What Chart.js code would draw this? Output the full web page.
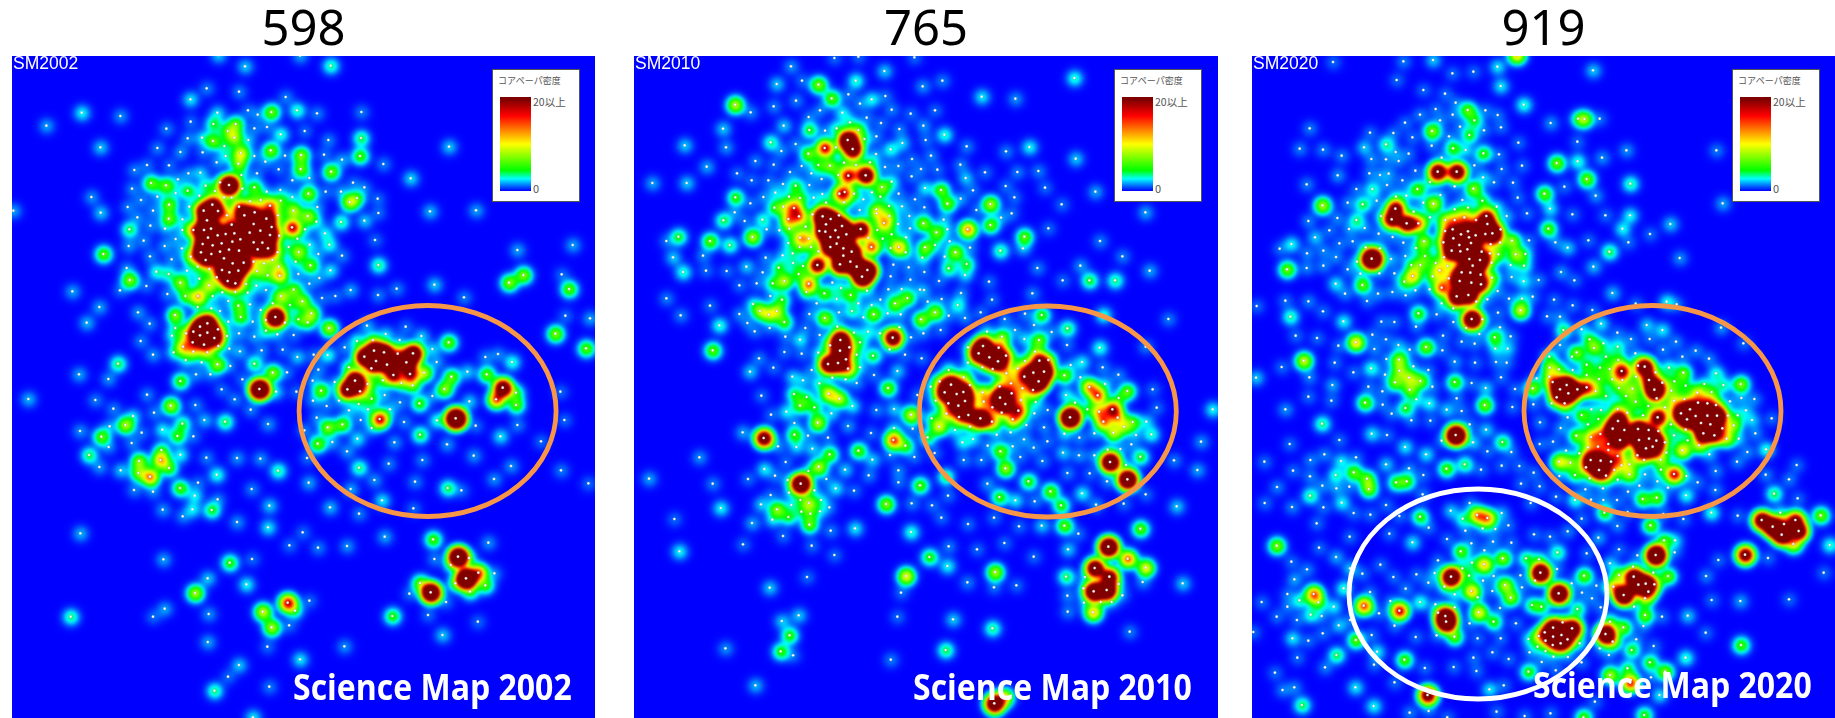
<!DOCTYPE html>
<html>
<head>
<meta charset="utf-8">
<title>Science Map</title>
<script src="https://cdn.jsdelivr.net/npm/chart.js@4/dist/chart.umd.min.js"></script>
<style>
html, body { margin: 0; padding: 0; background: #fff; width: 1835px; height: 718px; overflow: hidden; }
canvas { position: absolute; top: 0; }
.tag { position: absolute; top: 53px; color: #fff; font: 17.5px "Liberation Sans", sans-serif; }
.name { position: absolute; color: #fff; font: bold 32px/44px "Open Sans", sans-serif; white-space: nowrap; transform: scaleY(1.12); }
.scale { position: absolute; top: 69px; width: 88px; height: 133px; background: #fff; border: 1px solid #555; box-sizing: border-box; }
.scale b { position: absolute; left: 7px; top: 27px; width: 31px; height: 94px; }
.scale span { position: absolute; color: #555; white-space: nowrap; font-family: "Noto Sans CJK JP", sans-serif; }
</style>
</head>
<body>
<script>
// [x, y, density weight] read per zoomed crop of the map, see the origins in panels below
const sm2002Upper = [[735,199,.1],[992,197,.17],[900,167,.08],[655,165,.1],[620,265,.06],[717,275,.06],[571,298,.12],[857,291,.06],[245,338,.13],[361,348,.07],[139,377,.08],[652,338,.1],[744,331,.05],[773,344,.05],[814,336,.32],[891,331,.16],[951,340,.06],[1084,336,.06],[572,365,.05],[640,372,.2],[707,372,.3],[499,386,.06],[683,393,.25],[763,385,.05],[801,381,.05],[914,393,.05],[842,403,.15],[563,415,.06],[606,413,.1],[639,423,.3],[703,413,.35],[745,420,.08],[985,420,.06],[1083,414,.2],[301,442,.1],[472,444,.06],[673,438,.1],[541,456,.07],[608,457,.05],[812,451,.32],[722,459,.45],[903,465,.35],[1080,468,.27],[972,464,.05],[1347,440,.1],[677,468,.1],[763,468,.05],[855,467,.05],[650,487,.06],[796,485,.05],[1026,479,.08],[1150,492,.06],[441,495,.05],[507,496,.05],[403,510,.06],[715,491,.3],[836,508,.05],[902,507,.3],[993,515,.33],[565,520,.06],[601,518,.1],[771,520,.05],[724,525,.1],[534,538,.06],[1232,535,.11],[928,534,.06],[877,541,.05],[453,549,.3],[498,556,.3],[617,557,.15],[687,555,4],[660,547,.1],[1059,548,.05],[1093,562,.05],[396,566,.06],[563,572,.22],[645,573,.15],[727,566,.06],[763,562,.25],[841,570,.06],[977,575,.05],[1023,575,.07],[800,575,.05],[527,579,.06],[925,581,.33],[274,591,.07],[472,590,.06],[598,587,.07],[672,592,.12],[695,593,.06],[877,591,.08],[423,600,.06],[1049,606,.4],[1071,594,.2],[1133,596,.05],[750,604,.2],[782,600,.2],[842,602,.2],[507,614,.3],[637,614,1.4],[717,620,.6],[810,617,.6],[383,621,.06],[568,620,.1],[952,621,.06],[611,632,1.8],[654,633,.8],[880,632,.4],[459,632,.06],[1290,634,.09],[1428,631,.08],[40,632,.08],[302,638,.1],[1135,639,.05],[733,646,2.5],[764,637,.8],[681,646,.3],[834,646,.2],[799,656,2],[923,648,.35],[412,652,.06],[506,656,.3],[547,658,.08],[1023,666,.17],[1093,662,.1],[949,665,.1],[621,661,2.2],[761,672,2],[695,674,.5],[451,677,.06],[876,682,.9],[915,688,.08],[815,681,.4],[388,688,.2],[495,686,.06],[547,690,.06],[580,690,.6],[633,686,2],[612,690,2],[749,698,2],[781,692,2],[703,700,2],[975,700,.12],[653,706,2],[677,702,1.5],[721,718,2],[810,705,1.5],[624,713,2],[608,732,2],[638,736,2],[665,730,2],[697,725,2],[761,727,2],[787,728,2],[603,757,2],[634,762,1.5],[660,755,2],[687,749,2],[717,752,2],[773,748,1.5],[804,745,1.5],[617,780,.8],[672,775,2],[698,790,2],[731,788,1.5],[666,810,1.5],[715,812,1.5],[688,817,1.8],[706,850,.7],[683,843,.9],[572,770,.3],[431,722,.06],[527,717,.06],[386,738,.07],[494,738,.07],[546,745,.07],[310,762,.3],[450,769,.06],[838,707,.12],[892,716,.07],[929,734,.1],[988,734,.14],[1125,720,.05],[866,741,.1],[833,757,.2],[896,756,.35],[955,762,.06],[1026,767,.06],[1552,750,.08],[515,778,.06],[761,785,.1],[817,780,.15],[792,790,.2],[887,785,.1],[1135,795,.18],[931,796,.3],[380,804,.06],[836,800,.25],[593,800,.1],[628,807,.15],[469,815,.15],[771,813,.3],[803,826,.2],[839,827,.5],[561,812,.08],[991,811,.12],[506,822,.15],[389,840,.35],[895,822,.06],[598,836,.12],[650,832,.15],[958,834,.06],[541,848,.35],[738,852,.12],[627,856,.4],[928,851,.06],[1303,854,.1],[439,858,.05],[769,857,.08],[1527,848,.35],[1570,825,.35],[360,871,.05],[217,874,.08],[667,877,.05],[706,876,.08],[743,878,.08],[798,870,.06],[881,869,.3],[1052,870,.08],[1190,866,.06],[502,882,.06],[556,888,.25],[594,888,.55],[638,888,.08],[843,888,.4],[1134,885,.06],[966,894,.05],[1006,888,.05],[1392,892,.06],[685,903,.05],[907,904,.35],[298,921,.08],[593,921,.1],[750,913,.06],[715,917,.25],[870,915,.15],[818,910,.1],[634,925,.08],[660,933,.05],[782,930,.06],[414,937,.07],[934,940,.35],[525,945,.35],[722,951,.25],[826,951,3.5],[895,958,.2],[923,967,.2],[797,960,.1]];
const sm2002Lower = [[600,20,2.5],[622,10,2.5],[622,38,2.5],[600,46,2.5],[643,54,1.5],[654,28,.3],[580,35,.3],[558,40,.3],[260,8,.09],[449,11,.06],[526,24,.1],[516,47,.1],[578,67,.4],[549,80,.5],[612,74,.5],[655,78,.1],[681,48,.06],[717,40,.07],[763,50,.07],[832,43,.07],[881,45,.05],[798,32,.15],[685,5,.07],[758,5,.05],[855,8,.05],[987,24,.4],[422,63,.06],[521,97,.12],[580,95,.3],[622,97,.3],[688,86,.05],[720,94,.08],[785,91,.06],[848,89,.05],[459,104,.07],[892,111,.1],[941,104,.05],[983,105,.14],[1034,82,.06],[1071,63,.15],[1119,60,.2],[1157,42,.1],[1199,60,.06],[1264,48,.1],[1346,67,.3],[1297,87,.1],[1456,111,.06],[1494,102,.06],[1536,126,.15],[1310,126,.07],[1101,17,.08],[1217,20,.05],[557,120,.1],[605,127,.05],[652,133,.35],[691,138,.05],[354,131,.2],[763,131,.2],[1093,110,2.5],[1122,92,2.5],[1152,97,2.5],[1128,123,2.5],[1161,134,1.5],[1193,101,.6],[1239,100,2.5],[1219,127,2.5],[1180,165,1],[1230,162,.9],[1114,145,.5],[1047,142,.2],[955,149,.06],[1272,158,.4],[1402,155,.1],[1460,163,.3],[237,163,.08],[325,177,.07],[588,163,.06],[631,163,.05],[818,158,.35],[861,157,.05],[727,178,.05],[541,183,.27],[1065,182,3],[1103,192,.3],[938,182,.06],[1004,186,.06],[1149,181,.2],[1204,189,.2],[1238,196,.25],[1354,170,.3],[1508,203,2],[1333,207,.35],[1042,208,2],[1080,214,.5],[963,212,.3],[665,208,.05],[778,207,4.5],[828,215,.1],[889,215,.05],[1297,228,.06],[1548,218,.2],[441,224,.06],[1154,225,.07],[1115,236,.2],[1488,238,.7],[85,237,.09],[286,240,.06],[704,238,.06],[939,242,.06],[1017,242,.05],[1200,247,.06],[1258,250,.25],[1408,244,.1],[1548,255,.28],[1076,252,.1],[512,257,.4],[586,255,.06],[980,258,.05],[340,266,.06],[752,269,.06],[1047,271,.08],[1104,268,.08],[1170,268,.08],[462,278,.06],[399,288,.1],[950,293,.06],[1139,297,.9],[1367,295,5.5],[1082,300,.05],[613,300,.09],[675,305,.2],[1311,301,.15],[1212,306,.06],[1027,313,.3],[983,322,.35],[376,315,.4],[547,311,.2],[804,312,.07],[1427,317,.05],[1552,315,.06],[329,319,.07],[240,333,.07],[487,329,.13],[913,331,.06],[425,338,.05],[532,348,.25],[1115,324,.08],[304,350,.3],[580,349,.05],[1260,344,.22],[1501,349,.12],[1072,356,.12],[395,369,.06],[997,366,.07],[953,371,.3],[1183,367,.07],[1341,373,.07],[326,381,.06],[484,390,.2],[1041,394,.07],[541,404,.13],[267,405,.2],[417,423,.35],[481,420,.55],[507,444,.25],[619,413,.06],[711,414,.07],[781,416,.07],[1421,407,.07],[921,414,.05],[1267,420,.06],[1166,431,.06],[298,441,.07],[1533,438,.07],[1077,443,.18],[362,451,.1],[834,452,.17],[415,459,.3],[450,470,.65],[650,464,.15],[1123,480,.07],[1482,477,.07],[1245,485,.06],[926,488,.08],[594,488,.05],[540,504,.28],[1343,504,.2],[1384,511,.05],[755,507,.06],[402,510,.06],[459,515,.06],[1052,507,.08],[584,527,.12],[653,538,.06],[1146,541,.12],[808,557,.1],[990,562,.09],[488,569,.07],[577,568,.12],[635,570,.22],[1240,565,.05],[1077,581,.06],[548,589,.06],[711,606,.07],[804,622,.12],[908,637,.05],[241,640,.09],[1154,650,.08],[1299,658,.28],[868,676,.05],[954,683,.06],[1041,678,.07],[1465,668,.07],[1374,710,4],[1407,714,.1],[490,718,.08],[756,717,.05],[1303,717,.06],[689,728,.25],[1352,735,.12],[1398,775,5],[1435,758,.7],[1483,760,.06],[623,775,.1],[739,793,.13],[1366,790,.2],[1260,789,.3],[1456,796,.25],[585,819,.4],[1292,817,3.5],[1410,815,.2],[1228,821,.05],[1338,846,.05],[928,842,.05],[863,848,.9],[885,872,.15],[788,875,.45],[494,866,.08],[626,882,.07],[459,890,.05],[212,890,.18],[1284,885,.05],[1177,888,.25]];
const sm2002RightUpper = [[113,735,.08],[80,823,.05],[102,867,.3],[91,947,.05],[165,955,.08]];
const sm2002RightLower = [[61,41,.35],[153,85,.3],[76,215,.05],[88,300,.05],[18,364,.05],[78,451,.06],[160,490,.05]];
const sm2002Strip = [[698,52,.4],[743,46,.05],[1228,35,.05],[1137,75,.1],[534,96,.08],[687,110,.05],[885,109,.07],[771,148,.12],[614,165,.1],[586,200,.05],[692,230,.06],[551,242,.18],[650,322,.12]];

const sm2010Upper = [[898,174,.05],[970,170,.05],[1138,172,.05],[768,199,.07],[1048,213,.1],[725,252,.1],[801,242,.05],[850,254,.35],[962,242,.15],[1163,259,.07],[1222,242,.06],[890,295,.3],[940,283,.05],[1010,298,.13],[975,311,.06],[1051,288,.05],[1340,290,.12],[1441,296,.07],[600,314,.42],[647,337,.06],[716,319,.06],[783,302,.06],[855,331,.06],[922,338,.12],[1070,329,.06],[1127,341,.05],[1200,331,.05],[821,351,.05],[945,367,.12],[995,353,.05],[1038,369,.05],[1165,377,.07],[746,377,.1],[564,386,.1],[823,390,.22],[870,392,.05],[905,385,.15],[1093,387,.06],[970,390,.25],[938,420,3],[953,447,2],[1024,409,.05],[1228,404,.15],[707,427,.17],[782,432,.06],[988,417,.12],[1102,429,.1],[1172,420,.05],[869,444,.9],[449,436,.1],[573,442,.07],[903,442,.08],[1295,439,.06],[1483,441,.13],[739,453,.06],[820,461,.3],[1067,448,.14],[1413,454,.06],[1188,467,.06],[1023,462,.06],[661,483,.06],[716,494,.05],[850,495,.2],[885,497,.3],[1276,494,.06],[927,488,.15],[1131,477,.05],[963,495,.2],[1005,487,.15],[1090,498,.06],[515,500,.08],[800,498,.05],[829,520,.05],[606,520,.05],[765,516,.05],[940,527,.9],[992,526,2],[1050,501,.06],[1158,507,.05],[1207,509,.05],[1350,517,.05],[1447,516,.06],[1510,513,.06],[910,525,.15],[1130,529,.05],[1292,534,.1],[860,537,.05],[650,541,.05],[700,541,.05],[352,549,.08],[455,549,.1],[744,552,.05],[823,555,.05],[782,557,.2],[1041,561,.3],[1070,545,.12],[1412,558,.05],[1530,563,.05],[1170,564,.12],[1218,570,.3],[1314,571,.05],[721,578,.1],[862,582,.06],[913,581,.5],[929,576,.5],[957,581,.15],[1011,577,.08],[1091,581,.05],[1140,598,.05],[1277,596,.07],[1438,592,.05],[601,592,.25],[685,591,.06],[762,590,.1],[836,593,.08],[795,594,.2],[985,598,.06],[1036,590,.1],[1237,611,.3],[646,610,.05],[873,608,.12],[927,607,.2],[1366,612,.4],[1168,622,.05],[974,630,.08],[1024,628,.2],[1062,618,.12],[1101,619,.08],[718,623,.2],[745,620,.25],[777,624,.6],[760,657,.5],[792,649,.55],[863,649,3],[887,657,2],[1324,630,.05],[1430,640,.05],[1398,653,.06],[599,637,.06],[1047,669,.5],[1063,648,.2],[682,659,.15],[629,663,.05],[565,661,.2],[912,646,.15],[832,643,.1],[1123,648,.07],[1025,640,.3],[1165,670,.33],[1204,697,.3],[1298,688,.65],[1366,675,.3],[1226,659,.08],[1540,685,.05],[1237,688,.06],[873,673,2],[901,691,2],[921,678,2],[977,687,1.8],[1027,690,.1],[1070,703,.15],[1089,672,.06],[1125,685,.05],[853,693,.2],[812,680,.15],[763,686,.2],[695,688,.05],[733,691,.05],[652,711,.4],[430,710,.22],[525,723,.3],[584,735,.18],[394,723,.05],[1468,710,.3],[1464,745,.08],[871,695,2.3],[886,711,2.5],[910,712,2.5],[934,703,2.5],[795,713,.45],[821,716,.3],[1113,712,.07],[1091,741,.5],[1112,757,.1],[1009,741,.7],[1000,714,.15],[1043,716,.1],[1067,744,.1],[886,741,2.5],[905,731,2.5],[925,745,2.5],[950,755,2.5],[925,767,2.5],[946,785,2.5],[915,793,2.5],[965,800,2.5],[997,810,3],[981,830,3.5],[1170,742,.3],[1162,773,.12],[1200,735,.1],[1244,724,.06],[1261,757,.35],[1305,743,.06],[1295,792,.2],[1241,805,.2],[1290,825,.1],[1396,752,.18],[1507,804,.06],[1229,770,.05],[1168,816,.05],[847,795,1.5],[828,741,.15],[794,741,.15],[850,754,.12],[760,729,.1],[773,760,.08],[743,766,.08],[774,789,.1],[804,798,.1],[692,773,.06],[504,767,.06],[414,772,.1],[634,800,.1],[513,812,.05],[575,813,.05],[444,816,.15],[683,817,.05],[731,803,.2],[791,822,.2],[748,843,.4],[713,850,.2],[821,851,.65],[665,850,.05],[613,856,.05],[892,848,.05],[1075,794,.05],[1121,802,.06],[1067,829,.05],[1126,839,.05],[1212,843,.05],[1362,845,.05],[1167,870,.05],[1060,868,.06],[1100,867,.06],[1155,869,.05],[1278,879,.06],[1492,880,.06],[814,876,.15],[868,880,.25],[918,864,.12],[996,872,.1],[947,885,.25],[706,888,.05],[394,895,.06],[905,897,.1],[1117,894,.28],[1036,899,.05],[1080,910,.3],[1178,905,.05],[1220,897,.05],[1371,899,.05],[845,910,.05],[970,910,.05],[1010,915,.05],[654,912,.12],[741,899,.2],[525,917,.05],[675,933,.35],[701,944,.3],[725,933,.35],[823,942,.06],[869,954,.35],[912,937,.06],[951,933,.15],[1016,943,.3],[1058,940,.07],[1097,943,.06],[1200,937,.35],[1158,958,.35],[1268,915,.15],[1337,937,.05],[1241,947,.05],[437,946,.06],[613,942,.06],[748,966,.25],[985,952,.05],[1290,954,.06],[637,969,.05],[553,976,.15],[811,984,.05],[704,984,.05],[1470,941,.06],[1409,957,.06],[1520,945,.25],[1497,975,.05]];
const sm2010Lower = [[659,34,.05],[854,45,.06],[751,50,.05],[795,59,.12],[533,91,.3],[748,96,.05],[800,101,.05],[672,115,.06],[645,155,.1],[715,143,.05],[916,60,3],[943,82,.3],[885,76,.3],[915,92,2],[879,132,2],[909,129,2],[933,118,.3],[939,146,.5],[907,20,.1],[957,38,.1],[975,67,.15],[999,35,.12],[1035,40,.07],[1073,53,2],[1093,22,.05],[1128,52,.05],[1165,40,.05],[1217,30,.05],[1064,88,.05],[1110,104,.05],[1160,115,.05],[1014,107,.22],[965,104,.1],[850,98,.1],[830,150,.06],[1087,153,.1],[975,142,.08],[892,173,.05],[932,178,.05],[1017,165,.05],[772,170,.1],[804,181,.08],[853,190,.15],[965,189,.06],[881,221,.5],[913,236,.4],[777,222,.2],[815,231,.15],[795,257,.25],[838,262,.2],[889,280,.1],[1059,204,.3],[1147,225,.05],[679,227,.05],[952,258,.12],[1024,270,.06],[1077,267,.1],[1128,284,.45],[754,275,.12],[708,284,.05],[848,308,.4],[778,309,.05],[939,318,.07],[1212,320,.45],[623,337,.08],[686,354,1.7],[1008,339,.05],[1077,324,.08],[1133,326,.05],[778,344,.25],[819,347,.05],[879,353,.05],[1075,360,.75],[1111,377,.25],[729,379,.06],[784,381,.1],[832,386,.1],[970,392,.28],[884,403,.28],[1065,405,.05],[1138,411,.05],[493,412,.07],[1012,419,.1],[752,426,.05],[851,440,.4],[688,447,.12],[930,449,.1],[820,453,.1],[1090,451,.06],[720,467,.05],[1001,466,.06],[342,476,.08],[639,477,.05],[874,477,.05],[758,480,.07],[797,491,3.5],[1155,496,.28],[533,491,.06],[1090,487,.05],[902,505,.12],[957,512,.05],[838,511,.05],[762,518,.07],[707,525,.05],[1239,527,.05],[796,540,.1],[858,540,.1],[822,549,.35],[1053,552,.35],[1130,550,.06],[1191,556,.05],[678,553,.1],[769,555,.08],[557,564,.13],[883,562,.05],[726,568,.35],[855,574,.08],[799,575,.12],[826,581,.15],[1219,593,.05],[1299,612,.05],[760,591,.2],[712,599,.1],[418,597,.05],[651,609,.08],[823,614,.3],[887,632,.06],[960,625,.12],[1128,636,.15],[744,648,.05],[624,673,.05],[830,677,.05],[433,694,.13],[898,705,.05],[1241,679,.06],[1326,688,.05],[1408,669,.05],[1183,711,.25],[1237,738,.13],[816,771,.05],[1113,768,.5],[1380,756,.4],[1297,787,.06],[704,803,.1],[1444,796,.05],[1098,818,.05],[1377,802,.05],[1496,710,.05],[791,886,.1],[1087,890,.05],[1344,78,3],[1391,83,.6],[1331,100,2.5],[1363,112,2.5],[1389,124,2.5],[1413,107,.5],[1356,35,.1],[1401,50,.3],[1299,82,.08],[1299,128,.08],[1342,142,.1],[1373,147,.12],[1241,150,.15],[1286,172,.3],[1305,195,.12],[1248,194,3],[1214,184,.3],[1187,200,.08],[1229,217,2],[1265,222,2],[1285,216,2],[1290,243,2],[1270,257,2],[1202,242,.12],[1240,250,.4],[1234,281,.4],[1272,291,.5],[1300,285,1.2],[1336,295,3],[1371,305,.5],[1343,217,.4],[1346,245,.4],[1395,233,3],[1411,252,2],[1430,220,.5],[1372,262,.4],[1394,199,.4],[1428,190,.4],[1414,160,.4],[1448,145,.3],[1470,123,.2],[1440,30,.06],[1468,57,.1],[1512,60,.3],[1495,158,3],[1527,155,3],[1511,184,3],[1468,170,.8],[1513,122,1],[1494,210,.5],[1462,205,.3],[1458,240,.3],[1502,246,.1],[1550,36,.06],[1500,95,.2],[1540,120,.3],[1450,272,.75],[1433,298,.5],[1400,278,.2],[1498,280,.06],[1538,270,.05],[1190,295,.15],[1260,330,.1],[1305,320,.1],[1314,357,.1],[1282,367,.12],[1385,344,.07],[1427,337,.06],[1474,315,.06],[1527,322,.06],[1467,358,.07],[1537,364,.05],[1178,352,.2],[1199,399,.05],[1358,377,.06],[1433,379,.06],[1396,394,.3],[1496,383,.06],[1456,411,.05],[1286,420,.06],[1339,420,.06],[1522,423,.06],[1411,445,.38],[1232,470,.2],[1480,484,.25],[1357,491,.07],[1393,531,.25],[1441,541,.12],[1499,544,.06],[1546,514,.3],[1377,593,.05],[1452,619,.05],[1520,617,.1]];
const sm2010RightUpper = [[43,234,.15],[47,476,.1],[106,575,.08],[5,613,.05],[256,637,.08],[120,723,.06],[187,769,.06],[61,797,.07],[8,841,.05],[88,841,.22],[165,841,.18],[269,812,.08],[130,945,.15],[325,957,.06],[22,985,.2]];
const sm2010RightLower = [[21,75,.05],[119,83,.15],[257,80,.06],[32,135,.06],[66,126,.12],[128,142,.06],[13,166,.3],[61,172,.06],[175,164,.06],[88,201,.6],[113,226,.7],[135,192,.1],[202,213,.3],[176,234,.15],[278,208,.05],[18,225,.12],[45,248,.12],[82,268,.15],[117,275,.5],[157,268,.9],[290,263,.05],[458,268,.13],[30,292,5],[130,305,.6],[173,293,.4],[192,320,.3],[218,306,.25],[259,305,.1],[160,338,.4],[274,343,.15],[103,340,.07],[228,345,.06],[58,353,.06],[423,365,.07],[13,341,.1],[214,373,.05],[143,389,.07],[181,387,.06],[57,406,.07],[9,398,.1],[103,406,.07],[241,410,.22],[150,426,3],[198,435,.06],[342,421,.06],[412,450,.08],[202,478,3.5],[22,459,.06],[89,460,.05],[141,484,.06],[66,520,.13],[257,523,.05],[3,556,.25],[108,554,.07],[191,551,.05],[350,559,.1],[13,617,.3],[241,626,.3],[55,641,.05],[145,680,3.5],[24,688,.1],[203,716,.7],[104,744,2.2],[257,743,.5],[18,770,.2],[148,770,1.5],[75,771,.06],[140,810,3],[101,814,3],[176,792,.06],[368,790,.1],[70,805,.06],[248,786,.06],[22,827,.06],[72,848,.06],[122,846,.07],[155,846,.06],[187,826,.05],[99,877,.55],[23,875,.06]];
const sm2010Strip = [[1297,65,.06],[423,76,.25],[400,124,.25],[432,136,.05],[258,115,.07],[683,149,.06],[824,120,.2],[944,55,.18],[335,226,.09],[949,280,2.5],[975,262,.5],[843,28,.1],[403,33,.1]];

const sm2020Upper = [[819,186,.05],[1030,184,.06],[1119,180,.1],[1370,165,.55],[1312,200,.12],[1177,220,.05],[1240,215,.05],[1010,240,.05],[1322,258,.12],[1090,270,.05],[1155,281,.05],[1187,308,.05],[1391,314,.15],[1223,330,.3],[1127,327,.05],[1276,331,.05],[1313,345,.05],[1080,344,.06],[1178,344,.05],[1243,361,.2],[1140,361,.05],[1035,368,.05],[1472,369,.07],[1554,356,.15],[749,385,.06],[1200,380,.05],[1116,393,.35],[1272,391,.05],[1323,382,.05],[930,398,.05],[1000,399,.05],[1228,405,.22],[1057,412,.05],[1167,409,.05],[978,433,.17],[912,442,.1],[719,446,.06],[789,449,.06],[1115,437,.05],[1375,428,.05],[1552,425,.05],[1179,445,.25],[1217,450,.1],[1007,456,.05],[1046,461,.05],[845,467,.06],[1270,460,.25],[1317,463,.05],[934,477,.06],[978,478,.05],[1016,483,.05],[1145,473,.05],[1553,484,.15],[1490,489,.33],[1386,497,.05],[1133,515,2],[1190,515,2],[1066,512,.05],[1243,496,.05],[1325,507,.05],[1110,546,.1],[833,526,.07],[928,520,.05],[960,525,.05],[986,521,.06],[1269,532,.1],[1027,541,.05],[1302,547,.05],[1359,548,.05],[1513,560,.05],[740,553,.06],[889,567,.05],[937,567,.15],[981,555,.05],[1184,559,.05],[1240,566,.35],[1072,567,.28],[1453,581,.3],[1141,585,.06],[1373,593,.05],[787,616,.4],[863,608,.06],[908,613,.2],[950,602,.06],[1008,590,.1],[1039,587,.08],[1090,608,.05],[1120,611,.4],[1207,600,.05],[1267,602,.2],[1310,620,.1],[1470,626,.12],[1401,640,.05],[1537,643,.05],[832,654,.06],[1006,626,1.4],[995,658,1.5],[1040,670,1.7],[1075,670,.6],[963,648,.1],[1110,652,.1],[1061,635,.1],[745,663,.06],[889,660,.17],[1184,628,.1],[1224,623,.1],[1156,660,.35],[1184,660,.35],[1213,652,.45],[1248,660,.4],[1279,648,.9],[1282,672,1.5],[1297,700,3],[1465,686,.28],[1322,688,.12],[1340,648,.08],[808,691,.05],[867,687,.06],[914,684,.06],[1178,688,.4],[1224,694,2],[1203,703,2],[1247,706,2],[1227,712,2],[1180,715,2],[1155,693,.3],[765,712,.1],[956,701,.06],[998,711,.05],[1276,702,.3],[1356,722,.35],[1407,721,.05],[838,730,.05],[878,724,.05],[1092,724,.35],[1030,728,.05],[694,732,.13],[960,745,.08],[790,752,.06],[659,746,.05],[1523,743,.1],[1486,727,.06],[1198,735,2],[1233,729,2],[1175,752,2],[1201,754,2],[1222,748,2],[1150,727,.4],[1068,744,.1],[741,760,.06],[935,776,5.5],[917,742,.1],[891,785,.1],[993,777,.08],[828,771,.06],[1095,768,.2],[1036,768,.05],[1152,772,.2],[1367,763,.35],[1396,762,.12],[1265,755,.3],[1290,760,.2],[1315,763,.2],[1292,733,.15],[1320,728,.15],[1228,777,2.5],[1260,780,2.5],[1238,797,2.5],[1081,795,.25],[1054,795,.15],[681,808,.33],[740,804,.06],[790,797,.06],[863,808,.05],[1392,797,.15],[1352,795,.08],[1127,789,.15],[1163,798,.2],[1295,788,.1],[1139,811,.35],[1231,818,.9],[1205,817,2],[1262,824,.4],[1003,820,.05],[958,820,.05],[901,821,.06],[1058,828,.5],[1118,829,.25],[1503,816,.07],[1199,843,2.5],[1234,848,2.5],[1263,853,1],[1296,833,.25],[1166,835,.25],[1033,845,.2],[1355,831,.07],[1391,844,.12],[1436,840,.06],[1543,841,.05],[827,851,.12],[907,855,.3],[1145,863,.7],[1190,889,2.5],[1225,885,2.5],[855,881,.06],[954,881,.06],[997,876,.06],[1037,886,.05],[1066,871,.05],[1109,868,.05],[1313,873,.06],[676,902,.05],[745,904,.06],[1418,890,.05],[1145,910,.1],[1249,905,.1],[1282,898,.05],[1347,896,.05],[1386,896,.1],[1482,899,.05],[1538,916,.05],[921,903,.05],[590,918,.05],[1180,925,.1],[1381,931,.45],[1075,940,.25],[789,934,.05],[1130,943,.05],[1314,938,.05],[1461,949,.05],[1500,950,.06],[691,950,.17],[1235,957,3],[1267,958,.1],[850,964,.13],[964,965,.05],[1003,966,.05],[1180,966,.05],[1320,982,.05],[1068,980,.05],[1218,984,.05],[1510,990,.2]];
const sm2020Lower = [[707,47,.05],[771,54,.05],[887,67,.55],[835,77,.05],[943,87,.06],[1015,75,.08],[1098,81,.33],[978,58,.05],[937,44,.05],[1049,89,.05],[1147,91,.05],[1149,47,.05],[1205,65,.05],[1244,71,.05],[1306,86,.1],[1343,86,.1],[1304,52,.25],[1352,49,.05],[1258,42,.05],[731,122,.45],[665,141,.05],[824,128,.05],[1017,119,.35],[979,117,.05],[933,145,.15],[1060,139,.05],[1105,150,.05],[1184,125,.07],[1245,128,.05],[1308,126,.05],[1340,128,.05],[880,157,.05],[748,172,.06],[1018,152,.3],[975,164,.05],[588,173,.1],[1323,172,.05],[1047,173,.35],[1081,183,.3],[1005,187,.3],[1184,186,.28],[1235,189,.05],[1277,204,.1],[817,195,.08],[925,200,.05],[1049,209,.3],[1117,200,.05],[1365,207,.05],[967,214,.05],[1190,235,.05],[1069,238,.1],[745,230,.05],[814,242,.05],[915,248,.3],[1108,250,.13],[968,254,.05],[1036,264,.22],[1274,255,.33],[1357,261,.05],[676,268,.07],[1160,269,.1],[1205,273,.05],[995,281,.05],[1054,301,.05],[1111,302,.05],[786,311,.18],[1229,313,.05],[1278,329,.1],[935,341,.12],[981,345,.05],[1187,345,4.5],[838,360,.05],[1145,362,.05],[1239,367,.1],[1327,366,.22],[689,372,.05],[1035,381,.12],[1282,394,.05],[1354,396,.05],[793,403,.06],[1098,403,.12],[888,412,.05],[751,420,.06],[613,425,.05],[843,423,.12],[978,433,.1],[1159,446,.28],[1214,433,.2],[1325,437,.05],[1378,438,.05],[881,457,.3],[1047,445,.06],[699,452,.05],[921,476,.3],[1263,449,.05],[827,465,.15],[750,469,.06],[1090,465,.05],[1008,487,.25],[1040,484,.25],[926,507,.33],[787,497,.06],[868,500,.05],[829,505,.07],[651,501,.06],[1088,523,.06],[750,527,.18],[1383,491,.05],[845,548,.13],[978,555,.05],[614,549,.05],[696,561,.06],[790,562,.05],[881,579,.05],[931,584,.05],[1018,588,.05],[1080,590,.25],[1172,572,.1],[1229,549,.05],[1251,585,.6],[1282,594,.6],[1208,596,.15],[1325,579,.08],[1345,616,.05],[1268,625,.07],[1306,627,.05],[1216,632,.05],[1106,623,.05],[770,610,.05],[869,650,.05],[988,641,.05],[1057,667,.12],[650,677,.35],[1161,657,.05],[1234,670,.05],[1299,665,.06],[1354,668,.05],[777,683,.05],[1422,643,.05],[1470,650,.05],[1523,634,.06],[1202,694,.28],[1273,691,.05],[1492,697,.18],[1328,715,.35],[1272,733,.55],[1134,721,.05],[694,725,.05],[828,711,.08],[1236,728,.1],[1207,745,.1],[1398,715,.2],[1437,718,.15],[1441,758,3],[741,748,.06],[870,745,.1],[907,761,.05],[961,734,.05],[1069,763,.05],[1124,759,.08],[1173,770,3],[1227,767,.15],[1491,747,.05],[1381,766,.05],[1301,768,.05],[1000,771,.05],[703,778,.08],[1269,782,.05],[1105,788,.06],[1335,795,.4],[1153,800,.12],[1386,802,.05],[1425,782,.05],[1535,790,.05],[1496,820,3.5],[1037,806,.06],[851,805,.15],[1234,813,.55],[1297,813,.05],[1184,823,.1],[1253,832,.05],[1352,833,.35],[682,822,.05],[761,822,.7],[930,816,.05],[718,841,.15],[605,846,.05],[775,847,.2],[911,857,.75],[1080,846,.15],[991,843,.05],[1126,853,.05],[1018,872,.9],[1320,864,.05],[1184,862,.05],[821,860,.12],[1416,855,.2],[1444,860,.2],[1256,877,.5],[1156,888,2],[1134,878,.1],[957,880,.05],[682,860,.05],[785,888,.05],[650,890,.05],[752,884,.15],[1520,195,3],[1500,208,3],[1525,220,2.5],[1490,232,.5],[1469,143,.3],[1497,148,.2],[1430,175,.05],[1418,205,.33],[1468,170,.15],[1478,186,.5],[1538,150,.05],[1420,253,.05],[1475,250,.05],[1514,250,.4],[1552,208,.8],[1523,292,.05],[1440,307,.06],[1502,324,.07],[1549,347,.3],[1439,372,.05],[1479,365,.05],[1518,392,.05],[1497,425,.45],[1531,428,.3],[1421,458,.05],[1498,468,.06],[1439,499,.05],[1545,540,.15],[1412,549,.05],[1488,530,.05],[1500,75,.07],[1468,110,.15],[1536,110,.05]];
const sm2020RightUpper = [[54,211,.1],[28,357,.35],[74,356,.05],[154,451,.07],[424,451,.06],[81,473,.07],[35,537,.33],[166,551,.17],[62,587,.07],[443,610,.08],[91,646,.05],[165,646,.13],[286,672,.1],[142,686,.13],[225,702,.05],[40,721,.05],[160,727,.05],[103,755,.2],[55,800,.09],[314,774,.07],[112,879,.09],[52,930,.05],[275,905,.13],[182,911,.05],[305,913,.05],[78,971,.12],[215,975,.1],[262,990,.12],[438,983,.07],[20,988,.1]];
const sm2020RightLower = [[127,38,.05],[168,57,.06],[224,57,.05],[303,65,.06],[505,70,.05],[44,58,.2],[57,84,.3],[85,70,.1],[128,80,.15],[264,89,.06],[362,92,.06],[5,97,.3],[181,100,.06],[93,110,.15],[322,110,.05],[402,116,.06],[130,120,.2],[209,140,1.8],[35,134,.2],[75,143,.15],[104,147,.15],[140,153,1],[189,137,.2],[282,143,.15],[325,158,.3],[35,165,.15],[242,157,.15],[423,160,.15],[72,177,.2],[112,178,.2],[142,180,.15],[183,170,.15],[222,180,1],[262,188,.25],[298,184,.15],[388,192,.12],[445,195,.15],[497,192,.35],[35,202,.7],[132,204,.2],[172,206,.3],[238,209,4],[289,212,.2],[332,197,.15],[62,213,.25],[367,218,.4],[410,216,.2],[93,228,.15],[153,228,.15],[245,235,.15],[499,234,.06],[538,237,.06],[297,242,.35],[328,237,.2],[182,245,.25],[397,250,.65],[369,248,.4],[423,255,.3],[465,244,.06],[220,258,.15],[270,262,.2],[248,292,1.5],[49,268,.08],[78,270,.1],[128,267,.3],[157,278,.2],[513,271,.07],[345,268,2.5],[318,280,2.5],[336,298,2.5],[362,288,2.5],[397,287,2.5],[426,287,2.5],[378,309,2.5],[406,313,2.5],[385,340,2.5],[418,346,1],[442,325,.4],[459,287,.1],[488,286,.1],[590,295,.05],[20,285,.25],[70,297,.15],[129,303,2.5],[204,286,.12],[288,313,.12],[476,316,.3],[39,313,.1],[113,326,2.5],[148,330,.5],[189,327,2.5],[221,330,.6],[250,333,.15],[297,346,.12],[332,329,.08],[531,300,.1],[541,340,.06],[135,360,2.5],[192,360,2.5],[222,356,2.5],[244,362,1],[48,351,.45],[76,342,.5],[100,372,.5],[491,356,.08],[455,356,.35],[338,361,.1],[270,367,.1],[372,376,.35],[69,380,.4],[39,382,.25],[213,385,2.5],[233,380,2.5],[322,391,.5],[403,403,.08],[13,400,.08],[100,390,.1],[517,396,.06],[573,388,.15],[128,408,.5],[187,406,.45],[47,420,2],[77,422,2],[108,425,.45],[72,450,3],[33,442,.4],[207,420,.15],[257,419,.3],[274,398,.1],[163,433,.2],[140,436,.2],[486,425,.06],[118,450,.2],[0,465,.2],[422,453,.06],[665,435,.05],[210,463,.07],[258,449,.15],[297,462,.9],[163,463,.35],[93,467,.3],[334,468,.08],[572,464,.06],[44,475,.07],[642,478,.06],[128,479,.07],[247,484,.07],[368,487,.05],[193,497,.05],[279,503,.05],[31,508,.05],[84,505,.06],[159,515,.05],[421,510,.06],[333,526,.14],[597,521,.2],[203,537,.28],[245,533,.28],[668,535,.05],[48,539,.05],[85,540,.05],[126,540,.05],[88,578,.25],[158,576,.05],[265,582,.05],[20,596,.05],[325,597,.05],[409,578,.15],[488,587,.05],[616,578,.1],[560,600,2],[593,620,3.5],[620,644,3],[627,612,.5],[661,600,1.2],[671,633,1.8],[655,672,.45],[737,586,.33],[764,675,.15],[226,616,.3],[127,618,.06],[70,653,.08],[267,661,.25],[300,661,.1],[242,705,4.5],[132,688,.05],[35,700,.05],[187,706,.05],[299,697,.05],[510,704,1.5],[430,720,.05],[579,714,.05],[105,730,.1],[174,740,.05],[235,758,.05],[393,768,.06],[746,758,.05],[132,765,.3],[176,770,2],[190,794,2.5],[212,791,2.5],[279,768,.3],[238,793,.3],[27,767,.3],[64,797,.05],[146,825,3.5],[115,800,.5],[220,815,.5],[210,835,.3],[21,818,.05],[51,835,.05],[496,843,.08],[410,840,.05],[642,838,.05],[77,862,.05],[7,867,.2],[177,860,.05],[210,885,.3],[261,890,.05],[338,887,.1]];
const sm2020Strip = [[543,35,3.5],[565,80,.3],[605,40,.05],[668,35,.25],[727,40,.05],[825,53,2.5],[850,37,.2],[875,55,2.5],[803,67,.5],[825,80,2.5],[847,75,2],[845,100,1.2],[863,88,.6],[787,78,.3],[760,87,.1],[784,110,.1],[805,92,.1],[824,105,.2],[895,100,.1],[763,127,.05],[805,123,.05],[826,140,.05],[864,141,.05],[795,156,.05],[832,181,.05],[900,157,.05],[760,185,.25],[975,35,.2],[1010,52,.3],[963,72,3],[948,115,.05],[982,95,.3],[972,135,.05],[1044,88,.05],[1032,120,.22],[1090,108,.05],[1080,157,.25],[1120,185,.35],[1021,175,.2],[975,195,.4],[1028,218,.8],[1083,202,.05],[1105,255,.12],[1063,48,.05],[1227,68,.05],[1320,105,.28],[1174,143,.15],[935,275,.05],[1065,315,.25],[905,322,.28],[818,310,.05],[750,318,.05],[676,305,.05],[546,322,.05],[497,303,.05],[447,308,.06],[352,288,.13],[163,285,.2],[112,240,.06],[143,232,.06],[304,232,.12],[494,255,1.5],[407,217,.05],[224,172,.06],[92,188,.05],[151,143,.05],[254,135,.2],[433,149,.28],[353,164,.05],[487,174,.05],[563,171,.05],[623,183,.05],[615,143,.05],[708,147,.05],[665,127,.05],[361,125,.12],[305,90,.3],[138,85,.12],[180,92,.05],[218,70,.05],[260,46,.1],[347,75,.05],[463,81,.05],[407,47,.05],[518,76,.05],[626,85,.05],[687,85,.05],[150,30,.05],[35,66,.05],[290,30,.05],[657,238,.12],[695,226,.05]];

const panelTitles = ['598', '765', '919'];
const panelTags = ['SM2002', 'SM2010', 'SM2020'];
const panelNames = ['Science Map 2002', 'Science Map 2010', 'Science Map 2020'];
const panelLeft = [12, 634, 1252];
const panelRight = [595, 1218, 1835];
const mapTop = 56, mapBottom = 718;
const nameX = [293, 913, 1533];
const nameTop = [665, 665, 663];
// cx, cy, rx, ry, colour of the highlight rings
const rings2002 = [[427.6, 411, 128.5, 105.5, '#f79646']];
const rings2010 = [[1047.8, 411.5, 128.5, 105.5, '#f79646']];
const rings2020 = [[1652.5, 411, 128.5, 105.5, '#f79646'], [1478, 594, 129, 105, '#ffffff']];

const densityStops = [0, .13, .22, .5, .65, .8, .97];
const densityColors = [[0,0,255],[0,255,255],[0,255,0],[255,255,0],[255,128,0],[255,0,0],[128,0,0]];
const SIGMA = 5.6;
const HOT_DAMP = 0.72; // flattens the tallest peaks so their rims stay as wide as in the map

function fromCrop(list, ox, oy, sx, sy) {
    return list.map(p => ({ x: ox + p[0] / (sx || 3), y: oy + p[1] / (sy || 3), w: p[2] }));
}

const panelPoints = [
    [].concat(fromCrop(sm2002Upper, 0, 0), fromCrop(sm2002Lower, 0, 320), fromCrop(sm2002RightUpper, 535, 0), fromCrop(sm2002RightLower, 535, 320), fromCrop(sm2002Strip, 0, 610, 2.57, 3)),
    [].concat(fromCrop(sm2010Upper, 535, 0), fromCrop(sm2010Lower, 535, 320), fromCrop(sm2010RightUpper, 1060, 0), fromCrop(sm2010RightLower, 1060, 320), fromCrop(sm2010Strip, 625, 610, 2.57, 3)),
    [].concat(fromCrop(sm2020Upper, 1060, 0), fromCrop(sm2020Lower, 1060, 320), fromCrop(sm2020RightUpper, 1575, 0), fromCrop(sm2020RightLower, 1575, 320), fromCrop(sm2020Strip, 1240, 610, 2.635, 3))
];
const panelRings = [rings2002, rings2010, rings2020];

// colour lookup for the density field
const LUT_SIZE = 1024;
const lut = new Uint8ClampedArray(LUT_SIZE * 3);
for (let i = 0; i < LUT_SIZE; i++) {
    const t = i / (LUT_SIZE - 1);
    let k = 0;
    while (k < densityStops.length - 2 && t > densityStops[k + 1]) k++;
    const f = Math.min(1, (t - densityStops[k]) / (densityStops[k + 1] - densityStops[k]));
    for (let c = 0; c < 3; c++) {
        lut[i * 3 + c] = densityColors[k][c] + (densityColors[k + 1][c] - densityColors[k][c]) * f;
    }
}

// paints the kernel density of the scatter's own points under them
const densityField = {
    id: 'densityField',
    beforeDatasetsDraw(chart) {
        const area = chart.chartArea;
        const w = Math.round(area.right - area.left), h = Math.round(area.bottom - area.top);
        const sum = new Float32Array(w * h);
        const xs = chart.scales.x, ys = chart.scales.y;
        chart.data.datasets[0].data.forEach(p => {
            const cx = xs.getPixelForValue(p.x) - area.left;
            const cy = ys.getPixelForValue(p.y) - area.top;
            const weight = p.w > 1 ? Math.pow(p.w, HOT_DAMP) : p.w;
            const r = SIGMA * Math.sqrt(2 * Math.log(Math.max(weight, .01) / .002));
            const x0 = Math.max(0, Math.floor(cx - r)), x1 = Math.min(w - 1, Math.ceil(cx + r));
            const y0 = Math.max(0, Math.floor(cy - r)), y1 = Math.min(h - 1, Math.ceil(cy + r));
            for (let y = y0; y <= y1; y++) {
                for (let x = x0; x <= x1; x++) {
                    const d2 = (x - cx) * (x - cx) + (y - cy) * (y - cy);
                    sum[y * w + x] += weight * Math.exp(-d2 / (2 * SIGMA * SIGMA));
                }
            }
        });
        const off = document.createElement('canvas');
        off.width = w; off.height = h;
        const octx = off.getContext('2d');
        const img = octx.createImageData(w, h);
        for (let i = 0; i < sum.length; i++) {
            const j = Math.min(LUT_SIZE - 1, Math.round(sum[i] * (LUT_SIZE - 1)));
            img.data[i * 4] = lut[j * 3];
            img.data[i * 4 + 1] = lut[j * 3 + 1];
            img.data[i * 4 + 2] = lut[j * 3 + 2];
            img.data[i * 4 + 3] = 255;
        }
        octx.putImageData(img, 0, 0);
        const ctx = chart.ctx;
        ctx.drawImage(off, area.left, area.top, w, h);
        // the source map is a soft raster, a light blur takes the edge off the colour bands
        ctx.save();
        ctx.beginPath();
        ctx.rect(area.left, area.top, w, h);
        ctx.clip();
        ctx.filter = 'blur(0.8px)';
        ctx.drawImage(off, area.left, area.top, w, h);
        ctx.restore();
    }
};

const ovalRings = {
    id: 'ovalRings',
    afterDatasetsDraw(chart, args, opts) {
        const ctx = chart.ctx, xs = chart.scales.x, ys = chart.scales.y;
        ctx.save();
        ctx.beginPath();
        ctx.rect(chart.chartArea.left, chart.chartArea.top, chart.chartArea.width, chart.chartArea.height);
        ctx.clip();
        opts.rings.forEach(r => {
            const px = Math.abs(xs.getPixelForValue(1 + xs.min) - xs.getPixelForValue(xs.min));
            const py = Math.abs(ys.getPixelForValue(1 + ys.min) - ys.getPixelForValue(ys.min));
            ctx.beginPath();
            ctx.ellipse(xs.getPixelForValue(r[0]), ys.getPixelForValue(r[1]), r[2] * px, r[3] * py, 0, 0, Math.PI * 2);
            ctx.lineWidth = 4.8;
            ctx.strokeStyle = r[4];
            ctx.stroke();
        });
        ctx.restore();
    }
};

function addText(cls, text, left, top) {
    const el = document.createElement('div');
    el.className = cls;
    el.textContent = text;
    el.style.left = left + 'px';
    if (top !== null) el.style.top = top + 'px';
    document.body.appendChild(el);
}

function addScale(left) {
    const box = document.createElement('div');
    box.className = 'scale';
    box.style.left = left + 'px';
    const bar = document.createElement('b');
    const stops = densityStops.map((s, i) => `rgb(${densityColors[i].join(',')}) ${s * 100}%`).join(',');
    bar.style.background = `linear-gradient(to top, ${stops})`;
    box.appendChild(bar);
    [['コアペーパ密度', 5, 4, 9], ['20以上', 40, 24, 10.5], ['0', 40, 110, 11]].forEach(t => {
        const s = document.createElement('span');
        s.textContent = t[0];
        s.style.cssText = `left:${t[1]}px;top:${t[2]}px;font-size:${t[3]}px;`;
        box.appendChild(s);
    });
    document.body.appendChild(box);
}

// canvases first, so the overlaid text of one panel is never covered by the next
const charts = panelTitles.map((title, i) => {
    const canvas = document.createElement('canvas');
    const width = panelRight[i] - panelLeft[i];
    canvas.width = width;
    canvas.height = 718;
    canvas.style.left = panelLeft[i] + 'px';
    canvas.style.width = width + 'px';
    canvas.style.height = '718px';
    document.body.appendChild(canvas);

    return new Chart(canvas, {
        type: 'scatter',
        data: { datasets: [{
            data: panelPoints[i],
            pointRadius: 1.3,
            pointBackgroundColor: '#ffffff',
            pointBorderColor: 'rgba(130,130,130,0.6)',
            pointBorderWidth: 0.5
        }] },
        options: {
            responsive: false,
            animation: false,
            layout: { padding: 0, autoPadding: false },
            events: [],
            plugins: {
                legend: { display: false },
                tooltip: { enabled: false },
                title: {
                    display: true,
                    text: title,
                    color: '#000',
                    font: { family: '"Noto Sans"', size: 49, weight: 'normal', lineHeight: 1 },
                    padding: { top: 7, bottom: 0 }
                },
                ovalRings: { rings: panelRings[i] }
            },
            scales: {
                x: { type: 'linear', display: false, min: panelLeft[i], max: panelRight[i] },
                y: { type: 'linear', display: false, min: mapTop, max: mapBottom, reverse: true }
            }
        },
        plugins: [densityField, ovalRings]
    });
});

panelTitles.forEach((title, i) => {
    addText('tag', panelTags[i], panelLeft[i] + 1, null);
    addText('name', panelNames[i], nameX[i], nameTop[i]);
    addScale(panelLeft[i] + 480);
});
</script>
</body>
</html>
